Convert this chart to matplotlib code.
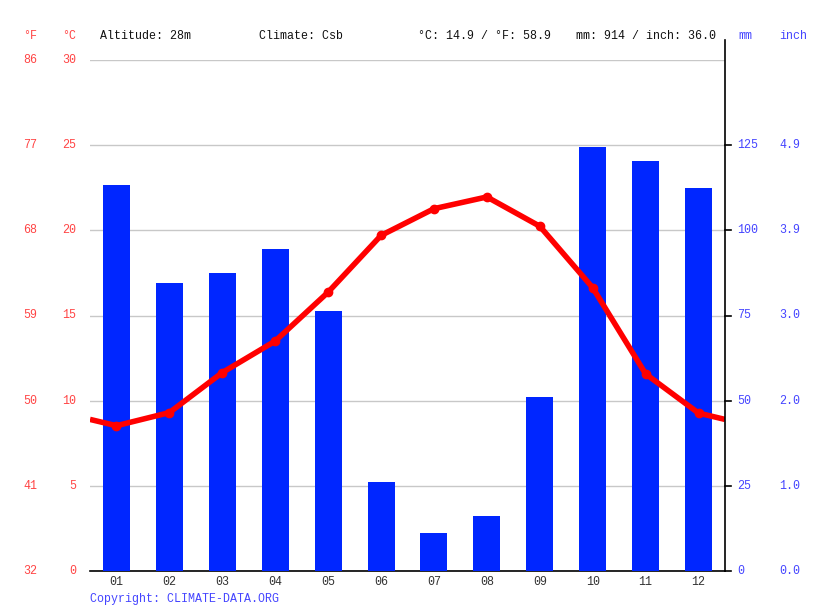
import matplotlib
matplotlib.use("Agg")
import matplotlib.pyplot as plt
from matplotlib.lines import Line2D

months = ["01", "02", "03", "04", "05", "06", "07", "08", "09", "10", "11", "12"]
precip_mm = [113.2, 84.4, 87.4, 94.4, 76.2, 26.2, 11.2, 16.2, 51.2, 124.4, 120.3, 112.4]
temp_c = [8.53, 9.3, 11.65, 13.5, 16.37, 19.7, 21.27, 21.96, 20.24, 16.63, 11.57, 9.27]
c_ticks = [0, 5, 10, 15, 20, 25, 30]
f_labels = ["32", "41", "50", "59", "68", "77", "86"]
mm_ticks = [0, 25, 50, 75, 100, 125]
inch_labels = ["0.0", "1.0", "2.0", "3.0", "3.9", "4.9"]
header_alt = "Altitude: 28m"
header_clim = "Climate: Csb"
header_temp = "°C: 14.9 / °F: 58.9"
header_prec = "mm: 914 / inch: 36.0"

FONT = "Liberation Mono"
FS = 8.4
RED = "#ff4444"
BLUE = "#4444ff"
W, H = 815, 611

fig = plt.figure(figsize=(W / 100, H / 100), dpi=100)
L, R, T, B = 90, 725, 60, 571
ax = fig.add_axes([L / W, 1 - B / H, (R - L) / W, (B - T) / H])
ax.set_xlim(0, 12)
ax.set_ylim(0, 30)

# gridlines
for c in c_ticks:
    ax.axhline(c, color="#c8c8c8", lw=1.0, zorder=0)

# precipitation bars (mm mapped on same axes: 150 mm == 30 C)
ax2 = ax.twinx()
ax2.set_ylim(0, 150)
ax2.bar([i + 0.5 for i in range(12)], precip_mm, width=0.51, color="#0026ff", zorder=2)

# temperature line, extended to edges with Dec/Jan average
edge = (temp_c[0] + temp_c[-1]) / 2
ax3 = ax.twinx()
ax3.set_ylim(0, 30)
xs = [0] + [i + 0.5 for i in range(12)] + [12]
ys = [edge] + temp_c + [edge]
ax3.plot(xs, ys, color="#ff0000", lw=4, solid_capstyle="butt", zorder=3)
ax3.plot([i + 0.5 for i in range(12)], temp_c, "o", color="#ff0000", ms=6, zorder=4)

for a in (ax, ax2, ax3):
    for s in ("left", "top", "right"):
        a.spines[s].set_visible(False)
    a.set_yticks([])
    a.set_xlim(0, 12)

ax.spines["bottom"].set_color("black")
ax.spines["bottom"].set_linewidth(1.2)
ax2.spines["bottom"].set_visible(False)
ax3.spines["bottom"].set_visible(False)
ax.set_xticks(range(13))
ax.set_xticklabels([])
ax.tick_params(axis="x", direction="out", length=5, width=1.2, color="black")
ax2.set_xticks([])
ax3.set_xticks([])
for i, m in enumerate(months):
    ax.text(i + 0.5, -0.65, m, ha="center", va="center", fontsize=FS,
            family=FONT, color="#333333", transform=ax.transData)

# right spine extended above plot
fig.add_artist(Line2D([R / W, R / W], [1 - B / H, 1 - 40 / H], color="black", lw=1.2))
for m in mm_ticks:
    y = 1 - (B - (B - T) * m / 150) / H
    fig.add_artist(Line2D([R / W, (R + 6) / W], [y, y], color="black", lw=1.2))

# left labels
for c, f in zip(c_ticks, f_labels):
    y = 1 - (B - (B - T) * c / 30) / H
    fig.text(76 / W, y, str(c), ha="right", va="center", fontsize=FS, family=FONT, color=RED)
    fig.text(37 / W, y, f, ha="right", va="center", fontsize=FS, family=FONT, color=RED)
# right labels
for m, inch in zip(mm_ticks, inch_labels):
    y = 1 - (B - (B - T) * m / 150) / H
    fig.text(737 / W, y, str(m), ha="left", va="center", fontsize=FS, family=FONT, color=BLUE)
    fig.text(779 / W, y, inch, ha="left", va="center", fontsize=FS, family=FONT, color=BLUE)

yh = 1 - 36 / H
fig.text(37 / W, yh, "°F", ha="right", va="center", fontsize=FS, family=FONT, color=RED)
fig.text(76 / W, yh, "°C", ha="right", va="center", fontsize=FS, family=FONT, color=RED)
fig.text(738 / W, yh, "mm", ha="left", va="center", fontsize=FS, family=FONT, color=BLUE)
fig.text(779 / W, yh, "inch", ha="left", va="center", fontsize=FS, family=FONT, color=BLUE)
fig.text(100 / W, yh, header_alt, ha="left", va="center", fontsize=FS, family=FONT, color="#111111")
fig.text(259 / W, yh, header_clim, ha="left", va="center", fontsize=FS, family=FONT, color="#111111")
fig.text(418 / W, yh, header_temp, ha="left", va="center", fontsize=FS, family=FONT, color="#111111")
fig.text(576 / W, yh, header_prec, ha="left", va="center", fontsize=FS, family=FONT, color="#111111")
fig.text(90 / W, 1 - 599 / H, "Copyright: CLIMATE-DATA.ORG", ha="left", va="center",
         fontsize=FS, family=FONT, color=BLUE)

fig.savefig("out.png", dpi=100)
